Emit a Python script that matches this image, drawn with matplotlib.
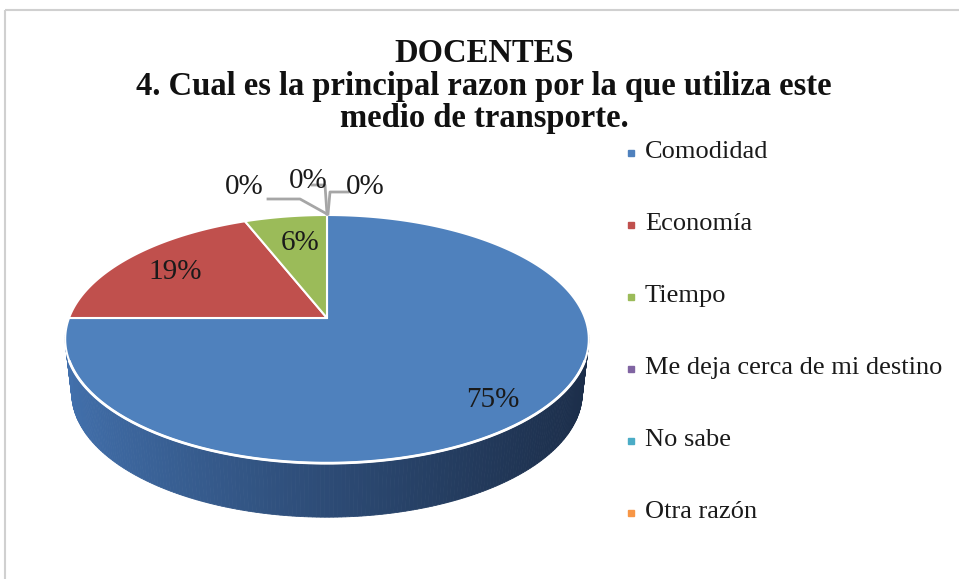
import numpy as np
import matplotlib.pyplot as plt
from matplotlib.patches import Polygon, Rectangle

# data
labels = ['Comodidad', 'Economía', 'Tiempo', 'Me deja cerca de mi destino', 'No sabe', 'Otra razón']
values = [75, 19, 6, 0, 0, 0]
colors = ['#4F81BD', '#C0504D', '#9BBB59', '#8064A2', '#4BACC6', '#F79646']
title = 'DOCENTES\n4. Cual es la principal razon por la que utiliza este\nmedio de transporte.'

plt.rcParams['font.family'] = ['Liberation Serif', 'DejaVu Serif']

fig = plt.figure(figsize=(9.59, 5.79), dpi=100)
ax = fig.add_axes([0, 0, 1, 1])
ax.set_xlim(0, 959)
ax.set_ylim(579, 0)
ax.axis('off')

# outer chart frame
ax.add_patch(Rectangle((5, 10), 970, 600, fill=False, edgecolor='#d0d0d0', lw=1.5))

# simple perspective projection of the pie disk
cx, cy = 327, 318
A, B, k = 258, 120.5, 0.17
depth = 54
shrink = 0.975  # bottom edge slightly narrower (perspective)

def proj(theta, dy=0, s=1.0):
    # theta: degrees clockwise from 12 o'clock
    t = np.radians(theta)
    u, v = np.sin(t), np.cos(t)
    return cx + s * A * u / (1 + k * v), cy - B * v / (1 + k * v) + dy

# side wall (front half), shaded left -> right
side_l = np.array([66, 112, 172]) / 255
side_r = np.array([28, 46, 74]) / 255
th = np.linspace(95, 265, 220)
for a0, a1 in zip(th[:-1], th[1:]):
    x0, y0 = proj(a0)
    x1, y1 = proj(a1)
    bx0, by0 = proj(a0, depth, shrink)
    bx1, by1 = proj(a1, depth, shrink)
    f = np.clip(((x0 + x1) / 2 - 65) / 525, 0, 1)
    f = f ** 0.85
    c = side_l * (1 - f) + side_r * f
    ax.add_patch(Polygon([(x0, y0), (x1, y1), (bx1, by1), (bx0, by0)],
                         closed=True, facecolor=c, edgecolor=c, lw=0.6))

# top face wedges (clockwise from 12 o'clock, like Excel)
start = 0
total = sum(values)
for val, col in zip(values, colors):
    span = 360 * val / total
    if span > 0:
        ts = np.linspace(start, start + span, max(int(span), 2) + 1)
        pts = [(cx, cy)] + [proj(t) for t in ts]
        ax.add_patch(Polygon(pts, closed=True, facecolor=col, edgecolor='white', lw=1.5))
    start += span

# front rim highlight
rim = np.array([proj(t) for t in np.linspace(110, 250, 200)])
ax.plot(rim[:, 0], rim[:, 1], color='white', lw=2)

# data labels
lab_fs = 21
lab_pos = [(493, 400), (175, 272), (300, 243), (244, 187), (308, 181), (365, 187)]
for val, (lx, ly) in zip(values, lab_pos):
    ax.text(lx, ly, f'{val}%', fontsize=lab_fs, ha='center', va='center', color='#1a1a1a')

# leader lines for the 0% slices
lc = '#a6a6a6'
ax.plot([268, 300, 327], [199, 199, 214], color=lc, lw=2)
ax.plot([312, 325, 327], [185, 185, 214], color=lc, lw=2)
ax.plot([348, 330, 328], [192, 192, 214], color=lc, lw=2)

# title
ax.text(484, 86, title, fontsize=23.5, fontweight='bold', ha='center', va='center',
        linespacing=1.05, color='#111111')

# legend
ly0, dly = 152, 72
for i, (lab, col) in enumerate(zip(labels, colors)):
    yy = ly0 + i * dly
    ax.plot(631, yy + 1, marker='s', markersize=5, color=col, mec=col)
    ax.text(645, yy, lab, fontsize=19, ha='left', va='center', color='#1a1a1a')

plt.savefig('out.png', dpi=100)
